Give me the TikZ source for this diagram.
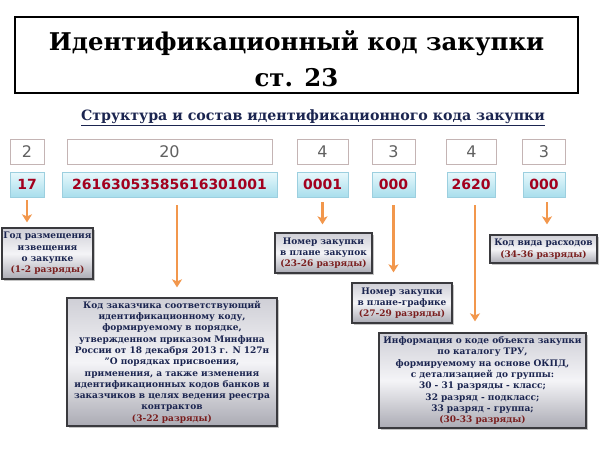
\documentclass[tikz,border=0pt]{standalone}
\usepackage{fontspec}
\setmainfont{DejaVu Serif}
\newfontfamily\numfont{DejaVu Sans}
\usetikzlibrary{arrows.meta,shadows}
\definecolor{navy}{HTML}{1B2550}
\definecolor{rangec}{HTML}{7A1E1E}
\definecolor{numred}{HTML}{A3001E}
\definecolor{topborder}{HTML}{C4B4B4}
\definecolor{blueborder}{HTML}{9CCFDF}
\definecolor{blueTop}{HTML}{E8F8FC}
\definecolor{blueBot}{HTML}{A8DEEC}
\definecolor{arrowc}{HTML}{F2974C}
\definecolor{boxborder}{HTML}{3A3A3E}
\definecolor{grayTop}{HTML}{CFCFD6}
\definecolor{grayMid}{HTML}{F4F4F7}
\definecolor{grayBot}{HTML}{ABABB4}
\tikzset{
  numtop/.style={draw=topborder, line width=0.8pt, fill=white, minimum height=25pt,
    inner sep=0pt, font=\numfont\fontsize{16}{16}\selectfont, text=black!62},
  numbot/.style={draw=blueborder, line width=0.8pt, top color=blueTop, bottom color=blueBot,
    minimum height=25pt, inner sep=0pt, font=\numfont\bfseries\fontsize{14}{14}\selectfont, text=numred},
  infobox/.style={draw=boxborder, line width=1.3pt, top color=grayTop, bottom color=grayBot,
    middle color=grayMid, drop shadow={shadow xshift=2pt, shadow yshift=-2pt, fill=black!45},
    align=center, inner sep=0pt, font=\bfseries\fontsize{9}{11.3}\selectfont, text=navy},
  arr/.style={draw=arrowc, line width=2.3pt, -{Stealth[length=8pt,width=10pt,inset=2pt]}}
}
\newcommand{\rng}[1]{{\color{rangec}#1}}
\begin{document}
\begin{tikzpicture}[x=1pt,y=-1pt]
\useasboundingbox[fill=white] (0,0) rectangle (600,448);
% title
\node[draw=black, line width=1.4pt, fill=white, minimum width=563pt, minimum height=76pt,
  inner sep=0pt] (title) at (296.5,55) {};
\node[align=center, inner sep=0pt, font=\bfseries\fontsize{24.4}{36}\selectfont] (titletext) at (296.5,59)
  {Идентификационный код закупки\\ст. 23};
\node[font=\bfseries\fontsize{14.2}{16}\selectfont, text=navy] (sub) at (313,118)
  {\underline{Структура и состав идентификационного кода закупки}};
% top row
\node[numtop, minimum width=34pt] (t1) at (27,152) {2};
\node[numtop, minimum width=205pt] (t2) at (169.5,152) {20};
\node[numtop, minimum width=51pt] (t3) at (322.5,152) {4};
\node[numtop, minimum width=43pt] (t4) at (393.5,152) {3};
\node[numtop, minimum width=50pt] (t5) at (471.5,152) {4};
\node[numtop, minimum width=43pt] (t6) at (544,152) {3};
% bottom row
\node[numbot, minimum width=34pt] (b1) at (27,184.5) {17};
\node[numbot, minimum width=215pt] (b2) at (169.5,184.5) {26163053585616301001};
\node[numbot, minimum width=51pt] (b3) at (322.5,184.5) {0001};
\node[numbot, minimum width=43pt] (b4) at (393.5,184.5) {000};
\node[numbot, minimum width=48pt] (b5) at (471,184.5) {2620};
\node[numbot, minimum width=42pt] (b6) at (544,184.5) {000};
% description boxes
\node[infobox, minimum width=91pt, minimum height=51pt] (A) at (47.5,253.5)
  {Год размещения\\извещения\\о закупке\\\rng{(1-2 разряды)}};
\node[infobox, minimum width=97pt, minimum height=40pt] (B) at (323.5,253)
  {Номер закупки\\в плане закупок\\\rng{(23-26 разряды)}};
\node[infobox, minimum width=107pt, minimum height=28pt] (C) at (543.5,249)
  {Код вида расходов\\\rng{(34-36 разряды)}};
\node[infobox, minimum width=100pt, minimum height=40pt] (D) at (402,303)
  {Номер закупки\\в плане-графике\\\rng{(27-29 разряды)}};
\node[infobox, minimum width=207pt, minimum height=95pt] (E) at (482.5,380.5)
  {Информация о коде объекта закупки\\по каталогу ТРУ,\\формируемому на основе ОКПД,\\с детализацией до группы:\\30 - 31 разряды - класс;\\32 разряд - подкласс;\\33 разряд - группа;\\\rng{(30-33 разряды)}};
\node[infobox, minimum width=210pt, minimum height=128pt] (F) at (172,362)
  {Код заказчика соответствующий\\идентификационному коду,\\формируемому в порядке,\\утвержденном приказом Минфина\\России от 18 декабря 2013 г. N 127н\\"О порядках присвоения,\\применения, а также изменения\\идентификационных кодов банков и\\заказчиков в целях ведения реестра\\контрактов\\\rng{(3-22 разряды)}};
% arrows
\draw[arr, shorten <=3pt, shorten >=5pt] (b1.south) -- (b1.south |- A.north);
\draw[arr, shorten <=8pt, shorten >=10pt] ([xshift=7.5pt]b2.south) -- ([xshift=7.5pt]b2.south |- F.north);
\draw[arr, shorten <=5pt, shorten >=8pt] (b3.south) -- (b3.south |- B.north);
\draw[arr, shorten <=8pt, shorten >=10pt] (b4.south) -- (b4.south |- D.north);
\draw[arr, shorten <=8pt, shorten >=11pt] ([xshift=4pt]b5.south) -- ([xshift=4pt]b5.south |- E.north);
\draw[arr, shorten <=5pt, shorten >=10pt] ([xshift=3pt]b6.south) -- ([xshift=3pt]b6.south |- C.north);
\end{tikzpicture}
\end{document}
